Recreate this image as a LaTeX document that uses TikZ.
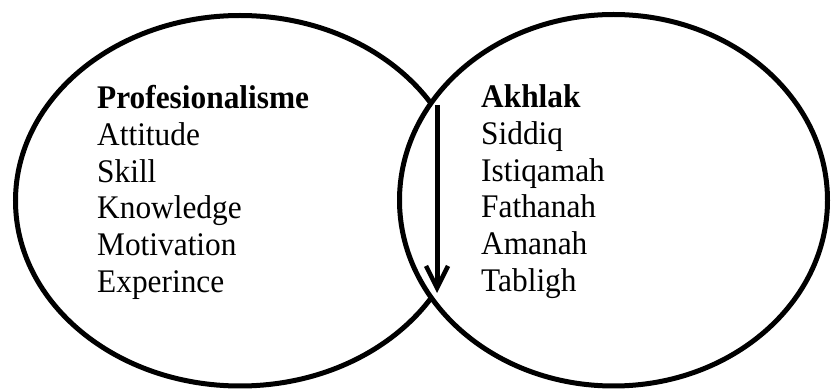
\documentclass[tikz,border=0pt]{standalone}
\usepackage{fontspec}
\setmainfont{Liberation Serif}[FakeStretch=0.95]
\usetikzlibrary{shapes.geometric,arrows.meta}
\tikzset{
  oval/.style={ellipse, draw=black, line width=5pt, inner sep=0pt},
  block/.style={anchor=north west, inner sep=0pt, align=left,
    font=\fontsize{33}{36.8}\selectfont},
  flow/.style={line width=5pt, -{Straight Barb[length=22pt,width=22pt,line width=4.5pt]}}
}
\begin{document}
\begin{tikzpicture}[x=1pt,y=-1pt]
\useasboundingbox (0,0) rectangle (831,390);
\node[oval, minimum width=449pt, minimum height=370.5pt] (L) at (240,200.75) {};
\node[oval, fill=white, minimum width=428pt, minimum height=371.5pt] (R) at (613.5,200.25) {};
\node[block] (prof) at (97,85) {\textbf{Profesionalisme}\\Attitude\\Skill\\Knowledge\\Motivation\\Experince};
\node[block] (akh) at (481,84.5) {\textbf{Akhlak}\\Siddiq\\Istiqamah\\Fathanah\\Amanah\\Tabligh};
\coordinate (a1) at (437,105);
\coordinate (a2) at (437,293);
\draw[flow] (a1) -- (a2);
\end{tikzpicture}
\end{document}
